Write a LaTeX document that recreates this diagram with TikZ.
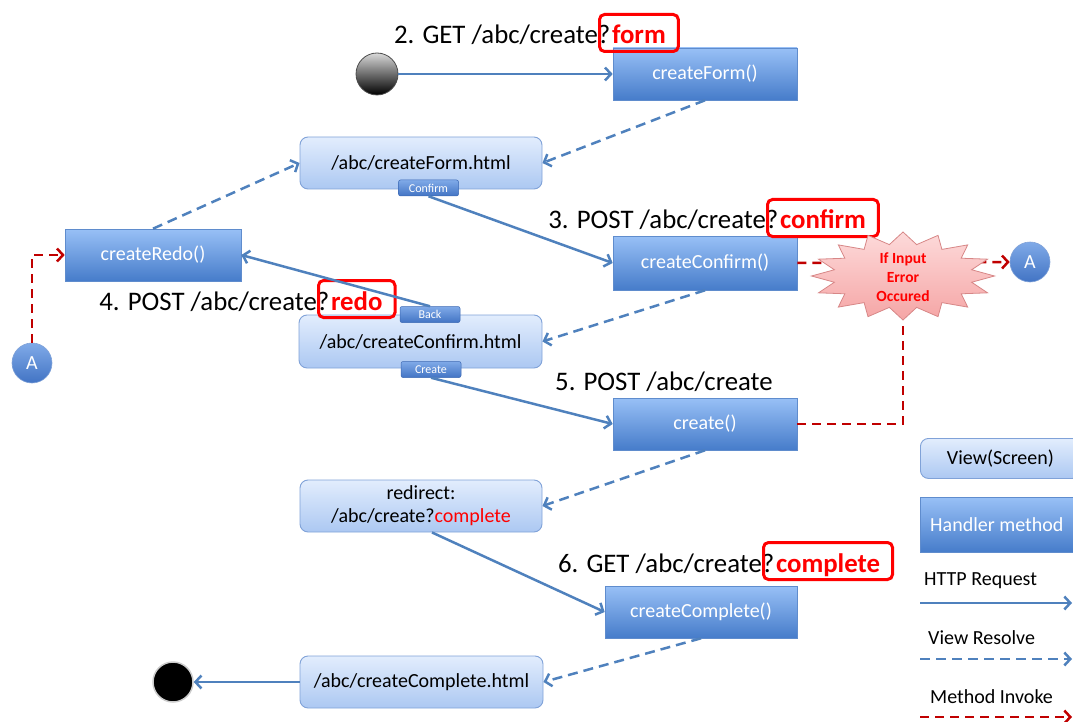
\documentclass[tikz,border=0pt]{standalone}
\usepackage{fontspec}
\setmainfont{Carlito}
\usetikzlibrary{arrows.meta,shapes.symbols,shapes.geometric}
\definecolor{hbt}{RGB}{152,192,246}
\definecolor{hbb}{RGB}{70,124,202}
\definecolor{hbd}{RGB}{95,140,205}
\definecolor{vt}{RGB}{226,237,253}
\definecolor{vb}{RGB}{172,200,242}
\definecolor{vd}{RGB}{128,162,216}
\definecolor{bt}{RGB}{128,170,232}
\definecolor{bb}{RGB}{66,116,196}
\definecolor{bd}{RGB}{60,105,180}
\definecolor{lblue}{RGB}{79,129,189}
\definecolor{dred}{RGB}{192,0,0}
\definecolor{burstt}{RGB}{253,218,218}
\definecolor{burstb}{RGB}{245,165,165}
\definecolor{burstd}{RGB}{215,135,135}
\begin{document}
\begin{tikzpicture}[x=1pt,y=-1pt,
  handler/.style={rectangle, minimum width=184pt, minimum height=52pt, inner sep=0pt,
    top color=hbt, bottom color=hbb, draw=hbd, line width=0.6pt, text=white,
    font=\fontsize{20}{24}\selectfont},
  viewbox/.style={rectangle, rounded corners=8pt, minimum width=242pt, minimum height=52pt,
    inner sep=0pt, top color=vt, bottom color=vb, draw=vd, line width=0.9pt,
    font=\fontsize{20}{23}\selectfont, align=center},
  btn/.style={rectangle, rounded corners=2pt, minimum width=60pt, minimum height=16pt,
    inner sep=0pt, top color=bt, bottom color=bb, draw=bd, line width=0.5pt,
    text=white, font=\fontsize{12}{12}\selectfont},
  circA/.style={circle, minimum size=40pt, inner sep=0pt, top color=bt, bottom color=bb,
    draw=vd, line width=0.6pt, text=white, font=\fontsize{20}{20}\selectfont},
  lbl/.style={inner sep=0pt, font=\fontsize{26.8}{32}\selectfont},
  redframe/.style={draw=red, line width=3pt, rounded corners=5pt, inner xsep=12.5pt,
    inner ysep=5.5pt, text height=24pt, text depth=2pt, text=red,
    font=\fontsize{26.8}{32}\selectfont\bfseries},
  legtext/.style={inner sep=0pt, anchor=base west, font=\fontsize{20}{22}\selectfont},
  req/.style={draw=lblue, line width=2.5pt, -{Straight Barb[length=6pt,width=13pt]}},
  res/.style={req, dash pattern=on 10pt off 6pt},
  inv/.style={draw=dred, line width=2.5pt, dash pattern=on 9pt off 6pt},
  invarrow/.style={inv, -{Straight Barb[length=6pt,width=13pt]}}
]
\useasboundingbox (0,0) rectangle (1073,722);

% ---- nodes ----
\node[circle, minimum size=42pt, inner sep=0pt, top color=black!15, bottom color=black,
  draw=black!70, line width=0.8pt] (start) at (377,74) {};
\node[handler] (cform) at (705,74) {createForm()};
\node[viewbox] (fhtml) at (421,163) {/abc/createForm.html};
\node[btn] (confbtn) at (428.5,188) {Confirm};
\node[handler, minimum width=176pt] (credo) at (153,255) {createRedo()};
\node[handler, minimum height=54pt] (cconf) at (705,263) {createConfirm()};
\node[viewbox, minimum width=243pt, minimum height=53pt] (chtml) at (420.5,341.5) {/abc/createConfirm.html};
\node[btn] (backbtn) at (430,314.5) {Back};
\node[btn] (createbtn) at (431,369.5) {Create};
\node[handler] (create) at (705,424) {create()};
\node[viewbox] (redir) at (421,506) {redirect:\\/abc/create?\textcolor{red}{complete}};
\node[handler, minimum width=192pt] (ccomp) at (701,612) {createComplete()};
\node[viewbox, minimum width=243pt] (comphtml) at (421.5,682) {/abc/createComplete.html};
\node[circle, minimum size=40pt, inner sep=0pt, fill=black, draw=black!20, line width=1.5pt] (stop) at (173,682) {};
\node[circA] (Ar) at (1030,262) {A};
\node[circA] (Al) at (32,363) {A};

% ---- labels ----
\node[lbl, anchor=base east] (p2) at (610.5,44) {2. GET /abc/create?};
\node[redframe, anchor=base west] (f2) at ([xshift=-12.5pt]p2.base east) {form};
\node[lbl, anchor=base east] (p3) at (778.5,229) {3. POST /abc/create?};
\node[redframe, anchor=base west] (f3) at ([xshift=-12.5pt]p3.base east) {confirm};
\node[lbl, anchor=base east] (p4) at (329.5,310) {4. POST /abc/create?};
\node[redframe, anchor=base west] (f4) at ([xshift=-12.5pt]p4.base east) {redo};
\node[lbl, anchor=base west] (p5) at (555,390) {5. POST /abc/create};
\node[lbl, anchor=base east] (p6) at (774.5,572) {6. GET /abc/create?};
\node[redframe, anchor=base west] (f6) at ([xshift=-12.5pt]p6.base east) {complete};

% ---- legend ----
\node[viewbox, minimum width=160pt, minimum height=40pt, anchor=north west] (legview) at (920,438) {View(Screen)};
\node[handler, minimum width=160pt, minimum height=55pt, anchor=north west] (leghand) at (920,497) {\hspace*{-7pt}Handler method};
\node[legtext] (legreq) at (924,585) {HTTP Request};
\node[legtext] (legres) at (928,644) {View Resolve};
\node[legtext] (leginv) at (930,703) {Method Invoke};
\coordinate (lra) at (920,603); \coordinate (lrb) at (1072,603);
\coordinate (lsa) at (920,659); \coordinate (lsb) at (1072,659);
\coordinate (lia) at (920,717); \coordinate (lib) at (1072,717);
\draw[req] (lra) -- (lrb);
\draw[res] (lsa) -- (lsb);
\draw[invarrow] (lia) -- (lib);

% ---- connectors ----
\draw[req] (start) -- (cform);
\draw[res] (cform.south) -- (fhtml.east);
\draw[res] (credo.north) -- (fhtml.west);
\draw[req] (confbtn.south) -- (cconf.west);
\draw[req] (backbtn.north) -- (credo.east);
\draw[res] (cconf.south) -- (chtml.east);
\draw[req] (createbtn.south) -- (create.west);
\draw[res] (create.south) -- (redir.east);
\draw[req] ([xshift=11pt]redir.south) -- (ccomp.west);
\draw[res] (ccomp.south) -- (comphtml.east);
\draw[req] (comphtml.west) -- (stop.east);
\draw[invarrow] (cconf.east) -- (Ar.west);
\draw[invarrow] (Al.north) |- (credo.west);

% ---- starburst ----
\path[draw=burstd, line width=0.8pt, top color=burstt, bottom color=burstb]
  plot[samples at={0,...,31}]
  ({903+(mod(\x,2)==0 ? 91.5 : 70)*cos(\x*11.25)}, {276+(mod(\x,2)==0 ? 44 : 32)*sin(\x*11.25)}) -- cycle;
\node[inner sep=0pt, text=red, align=center, font=\fontsize{15.5}{19}\selectfont\bfseries]
  (burst) at (903,277) {If Input\\Error\\Occured};
\coordinate (burstbot) at (903,320);
\draw[inv] (create.east) -| (burstbot);
\end{tikzpicture}
\end{document}
